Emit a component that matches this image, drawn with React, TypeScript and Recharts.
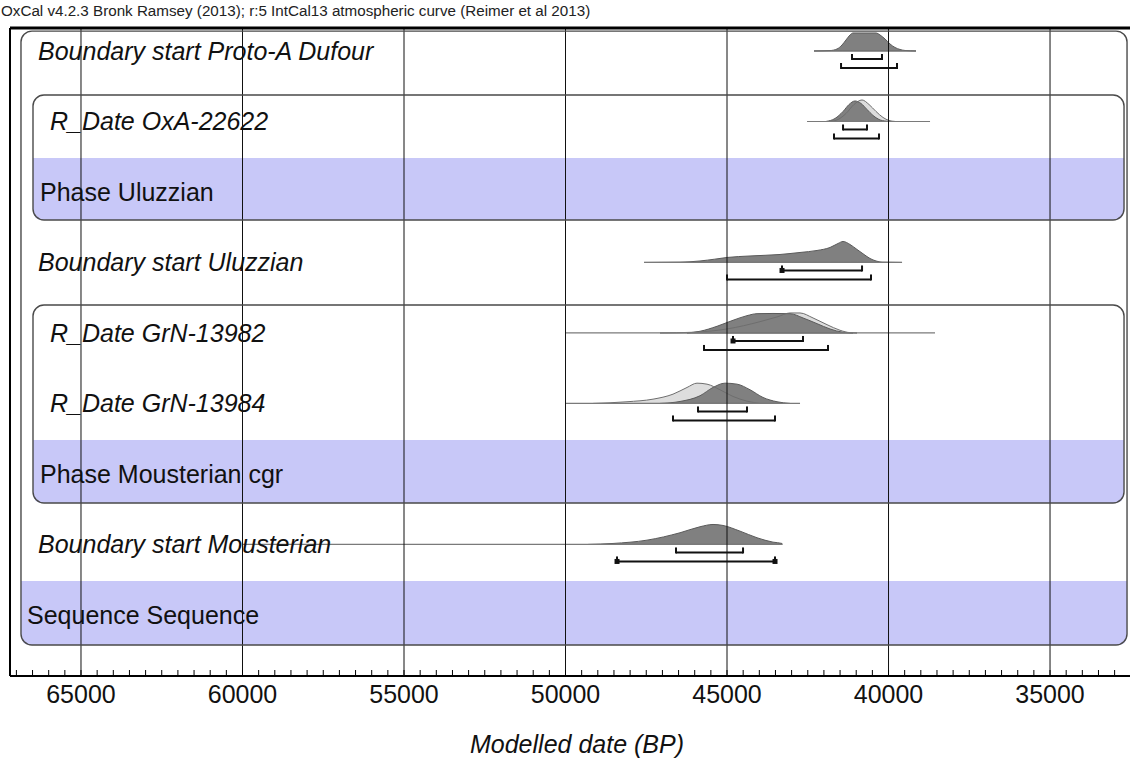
import React from 'react';
import { ComposedChart, Area, Line, Scatter, XAxis, YAxis, ReferenceLine, ReferenceArea } from 'recharts';

const FONT = '"Liberation Sans", Arial, Helvetica, sans-serif';

const headerText = 'OxCal v4.2.3 Bronk Ramsey (2013); r:5 IntCal13 atmospheric curve (Reimer et al 2013)';
const axisTitle = 'Modelled date (BP)';

// Rows of the model, top to bottom
const rowLabels = [
  'Boundary start Proto-A Dufour',
  'R_Date OxA-22622',
  'Phase Uluzzian',
  'Boundary start Uluzzian',
  'R_Date GrN-13982',
  'R_Date GrN-13984',
  'Phase Mousterian cgr',
  'Boundary start Mousterian',
  'Sequence Sequence',
];
const rowKinds = ['boundary', 'date', 'phase', 'boundary', 'date', 'date', 'phase', 'boundary', 'sequence'];

const majorTicks = [65000, 60000, 55000, 50000, 45000, 40000, 35000];

// Probability distributions: [cal BP, relative probability]
const protoADufourPosterior: [number, number][] = [
  [42307, 0], [41811, 0.4], [41594, 2], [41439, 6], [41316, 11], [41192, 16], [41099, 18],
  [40387, 18], [40263, 16], [40108, 12], [39954, 7], [39799, 3.5], [39644, 1.5], [39489, 0.5], [39149, 0],
];
const oxa22622Likelihood: [number, number][] = [
  [41811, 0], [41563, 2], [41316, 8], [41068, 17], [40820, 21.5], [40604, 17], [40387, 10],
  [40170, 4], [39985, 1], [39799, 0],
];
const oxa22622Posterior: [number, number][] = [
  [41935, 0], [41656, 3], [41408, 10], [41222, 17], [41037, 20.5], [40851, 18], [40666, 12],
  [40480, 6], [40294, 2], [40077, 0.3], [39950, 0],
];
const uluzzianStartPosterior: [number, number][] = [
  [47570, 0], [46455, 0.3], [45836, 1.5], [45380, 3.3], [45000, 5], [44288, 6.5], [43359, 8],
  [42740, 10], [42213, 12], [41811, 15], [41563, 19], [41408, 21], [41192, 18], [40975, 13],
  [40758, 8], [40573, 4], [40387, 1.5], [40201, 0.3], [39582, 0],
];
const grn13982Likelihood: [number, number][] = [
  [47074, 0], [46052, 0.7], [45000, 4], [43978, 11.3], [43452, 16], [43049, 20], [42740, 20],
  [42337, 15], [41904, 8.3], [41501, 2.7], [41192, 0.3], [40975, 0],
];
const grn13982Posterior: [number, number][] = [
  [46238, 0], [45836, 1.7], [45309, 6.7], [44814, 12.7], [44381, 17.3], [44071, 19.3],
  [43576, 19.5], [43049, 19.3], [42647, 15], [42213, 9.3], [41811, 4], [41408, 0.7], [41099, 0],
];
const grn13984Likelihood: [number, number][] = [
  [49148, 0], [48096, 1.7], [47291, 4.3], [46672, 9.3], [46238, 16], [45929, 20.3], [45619, 19.3],
  [45217, 13.7], [44814, 7], [44381, 2.3], [43978, 0],
];
const grn13984Posterior: [number, number][] = [
  [47074, 0], [46455, 2], [45836, 7.7], [45433, 16], [45062, 20.3], [44690, 19.3], [44288, 13.7],
  [43885, 6], [43452, 1.7], [43049, 0],
];
const mousterianStartPosterior: [number, number][] = [
  [49300, 0], [48529, 1], [47477, 4.3], [46455, 11.7], [45836, 17.7], [45433, 20], [45124, 19],
  [44597, 13.3], [44071, 6.7], [43576, 2.3], [43297, 1], [43290, 0],
];

// Full extent of each calculated distribution: [row, from, to]
const extents: [number, number, number][] = [
  [0, 42307, 39149],
  [1, 42523, 38715],
  [3, 47570, 39582],
  [4, 50000, 38560],
  [5, 50000, 42740],
  [7, 60000, 43297],
];
// Highest posterior density ranges: [row, from, to, square start, square end]
const ranges68: [number, number, number, boolean, boolean][] = [
  [0, 41130, 40201, false, false],
  [1, 41408, 40666, false, false],
  [3, 43297, 40820, true, false],
  [4, 44814, 42647, true, false],
  [5, 45898, 44381, false, false],
  [7, 46579, 44504, false, false],
];
const ranges95: [number, number, number, boolean, boolean][] = [
  [0, 41470, 39737, false, false],
  [1, 41687, 40294, false, false],
  [3, 45000, 40542, false, false],
  [4, 45712, 41873, false, false],
  [5, 46672, 43514, false, false],
  [7, 48405, 43514, true, true],
];

const rowDistributions: { row: number; posterior: [number, number][]; likelihood?: [number, number][] }[] = [
  { row: 0, posterior: protoADufourPosterior },
  { row: 1, posterior: oxa22622Posterior, likelihood: oxa22622Likelihood },
  { row: 3, posterior: uluzzianStartPosterior },
  { row: 4, posterior: grn13982Posterior, likelihood: grn13982Likelihood },
  { row: 5, posterior: grn13984Posterior, likelihood: grn13984Likelihood },
  { row: 7, posterior: mousterianStartPosterior },
];

// Layout (y in row units, x in cal BP)
const X_DOMAIN: [number, number] = [32524, 67198];
const Y_DOMAIN: [number, number] = [0.156, 9.348];
const ROW_PX = 70.5;
const BASE = 0.482;
const PROB = 1 / ROW_PX;
const OFF68 = 8 / ROW_PX;
const OFF95 = 17 / ROW_PX;

const BAND_FILL = '#c8c8f8';
const BOX_STROKE = '#4a4a4a';
const DARK = '#808080';
const LIGHT = '#dddddd';

const groups = [
  { top: 0.2, bandTop: 8.0, bottom: 8.908, left: 66858, right: 32616 },
  { top: 1.106, bandTop: 2.0, bottom: 2.879, left: 66486, right: 32709 },
  { top: 4.085, bandTop: 6.0, bottom: 6.894, left: 66486, right: 32709 },
];

const baseOf = (row: number) => row + BASE;
const toArea = (row: number, pts: [number, number][]) =>
  pts.map(([yr, p]) => ({ x: yr, y: [baseOf(row), baseOf(row) - p * PROB] }));

const labelRows = rowLabels.map((label, i) => ({ x: X_DOMAIN[1], y: baseOf(i), label, kind: rowKinds[i] }));

const BandShape = (p: any) => {
  const { x, y, width, height } = p;
  const r = 10;
  const b = y + height;
  const d = `M${x},${y} H${x + width} V${b - r} Q${x + width},${b} ${x + width - r},${b} H${x + r} Q${x},${b} ${x},${b - r} Z`;
  return <path d={d} fill={BAND_FILL} stroke="none" />;
};

const BoxShape = (p: any) => (
  <rect x={p.x} y={p.y} width={p.width} height={p.height} rx={11} ry={11} fill="none" stroke={BOX_STROKE} strokeWidth={1.4} />
);

const BracketEnd = (p: any) => {
  const { cx, cy, payload, index } = p;
  if (cx == null || cy == null) return <g key={index} />;
  return (
    <g key={index}>
      <line x1={cx} y1={cy + 1} x2={cx} y2={cy - 5} stroke="#111" strokeWidth={2} />
      {payload.sq ? <rect x={cx - 2.5} y={cy - 2.5} width={5} height={5} fill="#111" /> : null}
    </g>
  );
};

const minorTicks: number[] = [];
for (let v = 33000; v <= 67000; v += 500) minorTicks.push(v);

const XTick = (p: any) => {
  const { x, y, payload } = p;
  const v = payload.value;
  const major = majorTicks.includes(v);
  return (
    <g>
      <line x1={x} y1={y} x2={x} y2={y - 6} stroke="#000" strokeWidth={1} />
      {major ? (
        <text x={x} y={y + 27} textAnchor="middle" fontSize={25} fontFamily={FONT} fill="#111">
          {v}
        </text>
      ) : null}
    </g>
  );
};

const labelIndent: Record<string, number> = { boundary: 28, date: 40, phase: 30, sequence: 17 };

const RowLabel = (p: any) => {
  const { cx, cy, payload } = p;
  if (cx == null || cy == null) return <g />;
  const kind = payload.kind;
  const italic = kind === 'boundary' || kind === 'date';
  return (
    <text
      x={cx + labelIndent[kind]}
      y={cy}
      dy="0.36em"
      textAnchor="start"
      fontSize={25}
      fontStyle={italic ? 'italic' : 'normal'}
      fontFamily={FONT}
      fill="#111"
    >
      {payload.label}
    </text>
  );
};

export default function App() {
  return (
    <div style={{ position: 'absolute', left: 0, top: 0, width: 1130, height: 758, background: '#fff' }}>
      <div
        style={{
          position: 'absolute',
          left: 1,
          top: 2,
          fontFamily: FONT,
          fontSize: 15.2,
          lineHeight: '17px',
          color: '#222',
          whiteSpace: 'nowrap',
        }}
      >
        {headerText}
      </div>
      <ComposedChart width={1130} height={758} margin={{ top: 28, right: 0, bottom: 0, left: 10 }}>
        <XAxis
          type="number"
          dataKey="x"
          domain={X_DOMAIN}
          reversed
          allowDataOverflow
          ticks={minorTicks}
          interval={0}
          tick={<XTick />}
          tickLine={false}
          tickSize={0}
          tickMargin={0}
          axisLine={{ stroke: '#000', strokeWidth: 2 }}
          height={82}
          label={{
            value: axisTitle,
            position: 'insideBottom',
            offset: 5,
            dx: 7,
            fontSize: 25,
            fontStyle: 'italic',
            fontFamily: FONT,
            fill: '#111',
          }}
        />
        <YAxis type="number" domain={Y_DOMAIN} reversed allowDataOverflow width={0} hide />

        {groups.map((g, i) => (
          <ReferenceArea
            key={`band-${i}`}
            x1={g.left}
            x2={g.right}
            y1={g.bandTop}
            y2={g.bottom}
            ifOverflow="visible"
            shape={BandShape}
            zIndex={-300}
          />
        ))}

        {rowDistributions
          .filter((d) => d.likelihood)
          .map((d) => (
            <Area
              key={`lik-${d.row}`}
              data={toArea(d.row, d.likelihood!)}
              dataKey="y"
              type="monotone"
              stroke="none"
              fill={LIGHT}
              fillOpacity={1}
              dot={false}
              activeDot={false}
              isAnimationActive={false}
            />
          ))}
        {rowDistributions.map((d) => (
          <Area
            key={`post-${d.row}`}
            data={toArea(d.row, d.posterior)}
            dataKey="y"
            type="monotone"
            stroke="#5a5a5a"
            strokeWidth={1}
            fill={DARK}
            fillOpacity={1}
            dot={false}
            activeDot={false}
            isAnimationActive={false}
          />
        ))}
        {rowDistributions
          .filter((d) => d.likelihood)
          .map((d) => (
            <Area
              key={`likline-${d.row}`}
              data={toArea(d.row, d.likelihood!)}
              dataKey="y"
              type="monotone"
              stroke="#6e6e6e"
              strokeWidth={1}
              fill="none"
              dot={false}
              activeDot={false}
              isAnimationActive={false}
            />
          ))}
        {extents.map(([row, a, b]) => (
          <Line
            key={`ext-${row}`}
            data={[
              { x: a, y: baseOf(row) },
              { x: b, y: baseOf(row) },
            ]}
            dataKey="y"
            type="linear"
            stroke="#7a7a7a"
            strokeWidth={1.2}
            dot={false}
            activeDot={false}
            isAnimationActive={false}
          />
        ))}

        {majorTicks.map((v) => (
          <ReferenceLine key={`grid-${v}`} x={v} stroke="#111" strokeWidth={1} zIndex={600} />
        ))}
        <ReferenceLine y={Y_DOMAIN[0]} stroke="#000" strokeWidth={3} zIndex={600} />
        <ReferenceLine x={X_DOMAIN[1]} stroke="#000" strokeWidth={2} zIndex={600} />

        {groups.map((g, i) => (
          <ReferenceArea
            key={`box-${i}`}
            x1={g.left}
            x2={g.right}
            y1={g.top}
            y2={g.bottom}
            ifOverflow="visible"
            shape={BoxShape}
            zIndex={650}
          />
        ))}

        {[...ranges68.map((r) => [...r, OFF68] as const), ...ranges95.map((r) => [...r, OFF95] as const)].map(
          ([row, a, b, sqA, sqB, off], i) => (
            <Line
              key={`range-${i}`}
              data={[
                { x: a, y: baseOf(row) + off, sq: sqA },
                { x: b, y: baseOf(row) + off, sq: sqB },
              ]}
              dataKey="y"
              type="linear"
              stroke="#111"
              strokeWidth={2}
              dot={BracketEnd}
              activeDot={false}
              isAnimationActive={false}
              zIndex={700}
            />
          )
        )}

        <Scatter data={labelRows} dataKey="y" shape={RowLabel} isAnimationActive={false} zIndex={800} />
      </ComposedChart>
    </div>
  );
}
